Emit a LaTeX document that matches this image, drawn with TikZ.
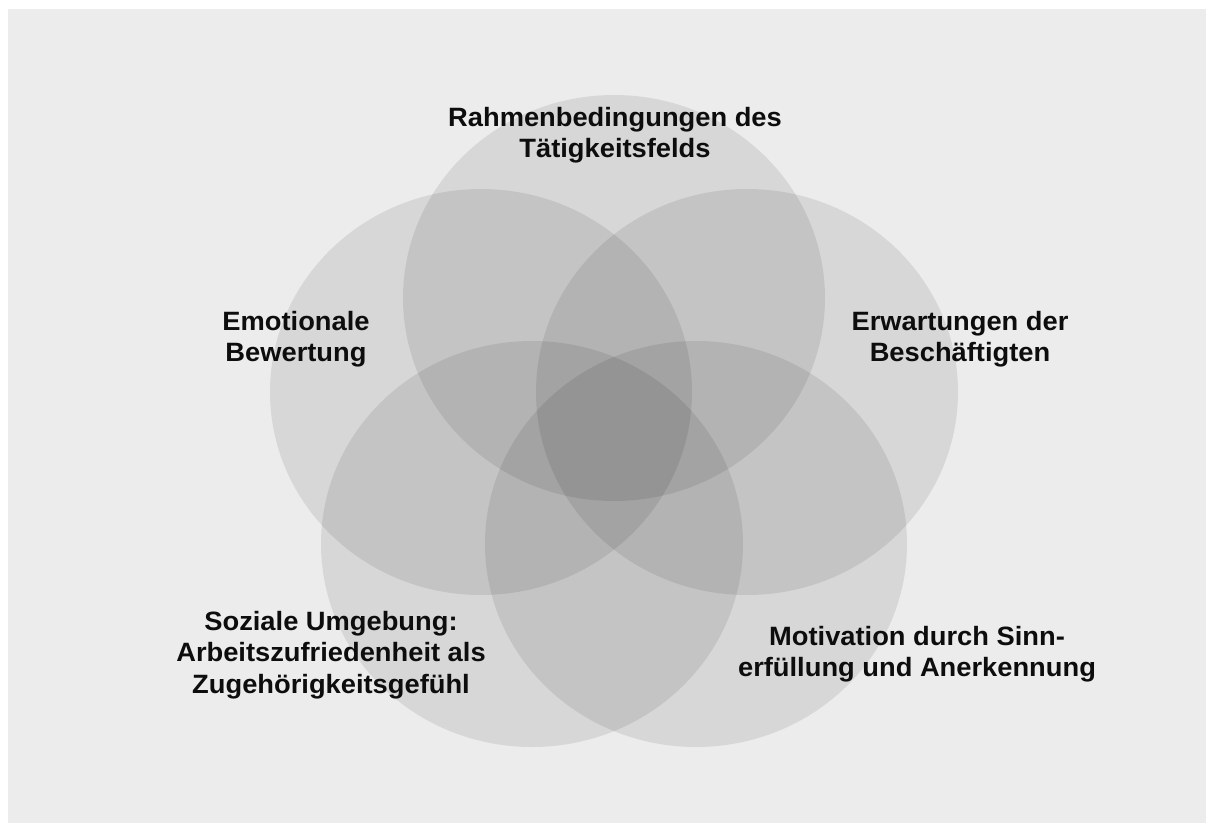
\documentclass[tikz,border=0pt]{standalone}
\usepackage{fontspec}
\setmainfont{Liberation Sans}
\newfontfamily\lblfont[FakeStretch=1.03]{Liberation Sans}
\usetikzlibrary{shapes.geometric}
\definecolor{bggray}{HTML}{ECECEC}
\definecolor{txt}{HTML}{0D0D0D}
\tikzset{
  petal/.style={ellipse, minimum width=422pt, minimum height=406pt, inner sep=0pt,
    fill=black, fill opacity=0.085, draw=none},
  lbl/.style={align=center, inner sep=0pt, text=txt,
    font=\lblfont\fontsize{26.5}{31.5}\selectfont\bfseries}
}
\begin{document}
\begin{tikzpicture}[x=1pt,y=-1pt]
\useasboundingbox (0,0) rectangle (1206,822);
\fill[white] (0,0) rectangle (1206,822);
\fill[bggray] (8,9) rectangle (1210,826);
% five overlapping petals
\node[petal] (ptop) at (614,298) {};
\node[petal] (pleft) at (481,392) {};
\node[petal] (pright) at (747,392) {};
\node[petal] (pbl) at (532,544) {};
\node[petal] (pbr) at (696,544) {};
% labels
\node[lbl] (ltop) at (615,135) {Rahmenbedingungen des\\Tätigkeitsfelds};
\node[lbl] (lleft) at (296,339) {Emotionale\\Bewertung};
\node[lbl] (lright) at (960,339) {Erwartungen der\\Beschäftigten};
\node[lbl] (lbl) at (331,655) {Soziale Umgebung:\\Arbeitszufriedenheit als\\Zugehörigkeitsgefühl};
\node[lbl] (lbr) at (917,654) {Motivation durch Sinn-\\erfüllung und Anerkennung};
\end{tikzpicture}
\end{document}
